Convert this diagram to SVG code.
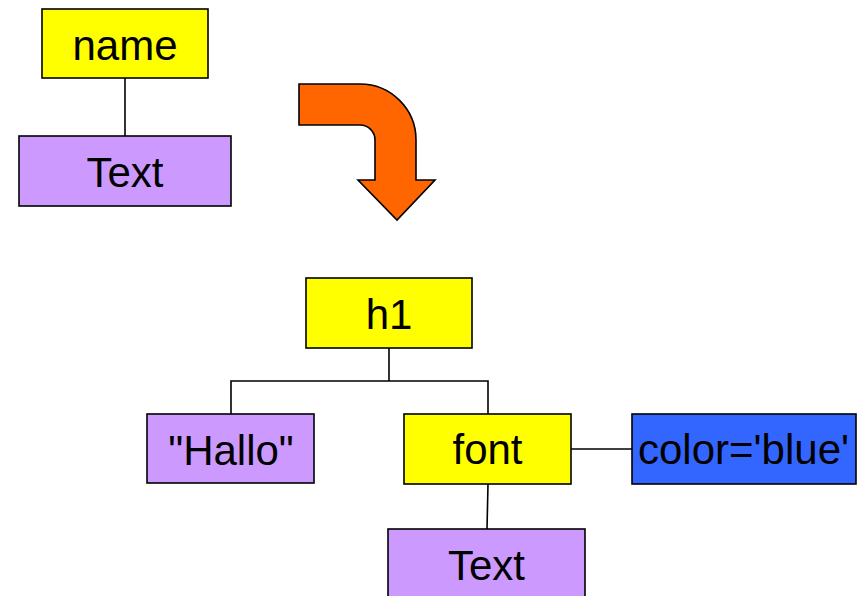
<svg xmlns="http://www.w3.org/2000/svg" width="857" height="596" viewBox="0 0 857 596">
  <style>
    .box { stroke: #000; stroke-width: 1.6; }
    .el { fill: #FFFF00; }
    .txt { fill: #CC99FF; }
    .attr { fill: #3366FF; }
    .lbl { font-family: "Liberation Sans", Arial, sans-serif; font-size: 42px; fill: #000; text-anchor: middle; }
    .conn { stroke: #000; stroke-width: 1.6; fill: none; }
  </style>
  <rect width="857" height="596" fill="#fff"/>

  <!-- connectors -->
  <g id="connectors">
    <path class="conn" d="M125,78 L125,136"/>
    <path class="conn" d="M389,348 L389,381 M231,414 L231,381 L488,381 L488,414"/>
    <path class="conn" d="M571,449 L632,449"/>
    <path class="conn" d="M488,484 L487,529"/>
  </g>

  <!-- transformation arrow -->
  <g id="arrow">
    <path d="M299,84 L360,84 A56,56 0 0 1 416,140 L416,180 L435,180 L397,220 L358,180 L375,180 L375,140 A15,15 0 0 0 360,125 L299,125 Z" fill="#FF6600" stroke="#000" stroke-width="1.6" stroke-linejoin="miter"/>
  </g>

  <!-- template pattern -->
  <g id="name">
    <rect class="box el" x="42" y="9" width="166" height="69"/>
    <text class="lbl" x="125" y="60">name</text>
  </g>
  <g id="text-top">
    <rect class="box txt" x="19" y="136" width="212" height="70"/>
    <text class="lbl" x="125" y="187">Text</text>
  </g>

  <!-- result tree -->
  <g id="h1">
    <rect class="box el" x="306" y="278" width="166" height="70"/>
    <text class="lbl" x="389" y="329">h1</text>
  </g>
  <g id="hallo">
    <rect class="box txt" x="147" y="414" width="167" height="69"/>
    <text class="lbl" x="231" y="465">"Hallo"</text>
  </g>
  <g id="font">
    <rect class="box el" x="404" y="414" width="167" height="70"/>
    <text class="lbl" x="487.5" y="464">font</text>
  </g>
  <g id="color">
    <rect class="box attr" x="632" y="414" width="224" height="70"/>
    <text class="lbl" x="638" y="464" style="text-anchor:start">color='blue'</text>
  </g>
  <g id="text-bottom">
    <rect class="box txt" x="388" y="529" width="197" height="80"/>
    <text class="lbl" x="486.5" y="580">Text</text>
  </g>
</svg>
